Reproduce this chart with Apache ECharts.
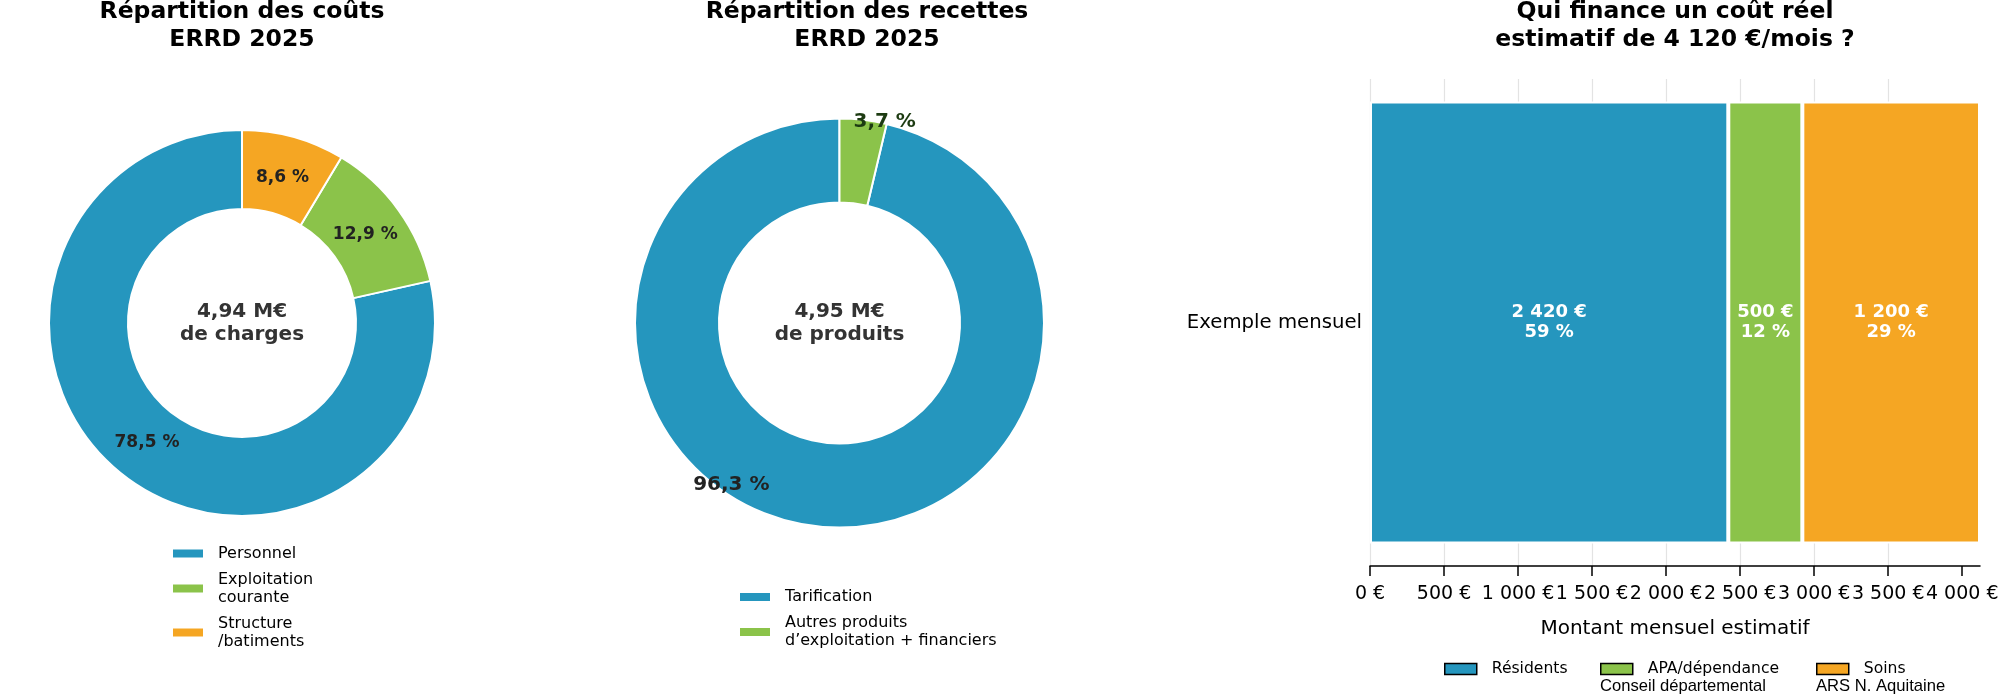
<!DOCTYPE html>
<html><head><meta charset="utf-8">
<script src="https://cdn.jsdelivr.net/npm/echarts@6/dist/echarts.min.js"></script>
<style>html,body{margin:0;padding:0;background:#fff}#c{width:2000px;height:694px}</style>
</head><body><div id="c"></div>
<script>
// ---- data ----
const costCategories = ['Personnel', 'Exploitation\ncourante', 'Structure\n/batiments'];
const costShares = [78.5, 12.9, 8.6];
const costTotalLabel = '4,94 M€\nde charges';

const revenueCategories = ['Tarification', 'Autres produits\nd’exploitation + financiers'];
const revenueShares = [96.3, 3.7];
const revenueTotalLabel = '4,95 M€\nde produits';

const fundingCategory = ['Exemple mensuel'];
const fundingSources = ['Résidents', 'APA/dépendance', 'Soins'];
const fundingSubLabels = ['', 'Conseil départemental', 'ARS N. Aquitaine'];
const fundingValues = [2420, 500, 1200];
const fundingTotal = 4120;
const xTickValues = [0, 500, 1000, 1500, 2000, 2500, 3000, 3500, 4000];

const titles = ['Répartition des coûts\nERRD 2025', 'Répartition des recettes\nERRD 2025', 'Qui finance un coût réel\nestimatif de 4 120 €/mois ?'];

// ---- style ----
const FONT = "'DejaVu Sans', sans-serif";
const COLORS = ['#2596be', '#8bc34a', '#f5a623'];
const eur = v => String(v).replace(/\B(?=(\d{3})+(?!\d))/g, ' ') + ' €';
const pct = p => p.value.toFixed(1).replace('.', ',') + ' %';

// mid angles (deg, counter-clockwise from 3 o'clock) of the cost wedges, used to pull labels slightly inward
const costTotal = costShares.reduce((a, b) => a + b, 0);
const costMidAngles = [];
costShares.reduce((acc, v) => { costMidAngles.push(90 + (acc + v / 2) / costTotal * 360); return acc + v; }, 0);

const chart = echarts.init(document.getElementById('c'), null, {renderer: 'canvas'});

const titleX = [242, 867, 1675];
const graphic = titles.map((t, i) => ({
  type: 'text', x: titleX[i], y: 26, silent: true,
  style: {text: t, font: "bold 23.5px 'DejaVu Sans'", fill: '#000', align: 'center', verticalAlign: 'middle', textAlign: 'center', textVerticalAlign: 'middle', lineHeight: 28}
}));
graphic.push({type: 'text', x: 242, y: 323, silent: true,
  style: {text: costTotalLabel, font: "bold 20px 'DejaVu Sans'", fill: '#333', align: 'center', verticalAlign: 'middle', textAlign: 'center', textVerticalAlign: 'middle', lineHeight: 23}});
graphic.push({type: 'text', x: 839.5, y: 323, silent: true,
  style: {text: revenueTotalLabel, font: "bold 20px 'DejaVu Sans'", fill: '#333', align: 'center', verticalAlign: 'middle', textAlign: 'center', textVerticalAlign: 'middle', lineHeight: 23}});
const subX = [0, 1600, 1816];
fundingSubLabels.forEach((s, i) => {
  if (!s) return;
  graphic.push({type: 'text', x: subX[i], y: 686.5, silent: true,
    style: {text: s, font: "16.6px 'Liberation Sans'", fill: '#000', align: 'left', verticalAlign: 'middle', textAlign: 'left', textVerticalAlign: 'middle'}});
});

const pieLegendBase = {
  orient: 'vertical', padding: 0, itemWidth: 30, itemHeight: 8, itemGap: 8, icon: 'rect', selectedMode: false,
  itemStyle: {borderWidth: 0},
  textStyle: {fontFamily: FONT, fontSize: 16, lineHeight: 18, color: '#000', padding: [0, 0, 0, 10]}
};
const barLegendLeft = [1444, 1600, 1816];

const option = {
  animation: false,
  textStyle: {fontFamily: FONT},
  graphic: graphic,
  legend: [
    Object.assign({}, pieLegendBase, {data: costCategories, left: 173, top: 544.5}),
    Object.assign({}, pieLegendBase, {data: revenueCategories, left: 740, top: 588}),
    ...fundingSources.map((n, i) => ({
      data: [n], left: barLegendLeft[i], top: 660.5, padding: 0, itemWidth: 32, itemHeight: 11, icon: 'rect', selectedMode: false,
      itemStyle: {borderColor: '#000', borderWidth: 1.5},
      textStyle: {fontFamily: FONT, fontSize: 15.6, lineHeight: 17, color: '#000', padding: [0, 0, 0, 10]}
    }))
  ],
  grid: {left: 1370, right: 20, top: 79, bottom: 128, containLabel: false, outerBoundsMode: 'none'},
  xAxis: {
    type: 'value', min: 0, max: fundingTotal, interval: 500,
    axisLine: {show: true, lineStyle: {color: '#000', width: 1.5}},
    axisTick: {show: true, length: 10, lineStyle: {color: '#000', width: 1.5}, customValues: xTickValues},
    axisLabel: {customValues: xTickValues, formatter: eur, fontSize: 19, color: '#000', margin: 19, fontFamily: FONT,
      showMaxLabel: true, showMinLabel: true, hideOverlap: false},
    splitLine: {show: true, showMaxLine: false, lineStyle: {color: '#e3e3e3', width: 1.2}},
    name: 'Montant mensuel estimatif', nameLocation: 'middle', nameGap: 53,
    nameTextStyle: {fontSize: 20, color: '#000', fontFamily: FONT}
  },
  yAxis: {
    type: 'category', data: fundingCategory,
    axisLine: {show: false}, axisTick: {show: false}, splitLine: {show: false},
    axisLabel: {fontSize: 19.7, color: '#000', margin: 8, fontFamily: FONT, padding: [8, 0, 0, 0]}
  },
  series: [
    {
      type: 'pie', center: [242, 323], radius: [114, 193], startAngle: 90, clockwise: false,
      avoidLabelOverlap: false, silent: true, emphasis: {disabled: true},
      data: costCategories.map((n, i) => ({name: n, value: costShares[i], itemStyle: {color: COLORS[i]}})),
      itemStyle: {borderColor: '#fff', borderWidth: 2},
      label: {show: true, position: 'inside', formatter: pct, fontSize: 17, fontWeight: 'bold', color: '#222', fontFamily: FONT},
      labelLayout: p => {
        const a = costMidAngles[p.dataIndex] * Math.PI / 180;
        return {dx: -4.5 * Math.cos(a), dy: 4.5 * Math.sin(a) + 1};
      },
      labelLine: {show: false}
    },
    {
      type: 'pie', center: [839.5, 323], radius: [120.5, 204.5], startAngle: 90, clockwise: false,
      avoidLabelOverlap: false, silent: true, emphasis: {disabled: true},
      data: revenueCategories.map((n, i) => ({name: n, value: revenueShares[i], itemStyle: {color: COLORS[i]},
        label: {color: i === 0 ? '#222' : '#1d3b12'}})),
      itemStyle: {borderColor: '#fff', borderWidth: 2},
      label: {show: true, position: 'inside', formatter: pct, fontSize: 20, fontWeight: 'bold', color: '#222', fontFamily: FONT},
      labelLayout: p => (p.dataIndex === 0 ? {dx: -89, dy: -3} : {dx: 26, dy: -37}),
      labelLine: {show: false}
    },
    ...fundingSources.map((name, i) => ({
      type: 'bar', name: name, stack: 'total', data: [fundingValues[i]], barWidth: 442,
      silent: true, emphasis: {disabled: true},
      itemStyle: {color: COLORS[i], borderColor: '#fff', borderWidth: 2},
      label: {show: true, position: 'inside', color: '#fff', fontWeight: 'bold', fontSize: 18, lineHeight: 20, fontFamily: FONT,
        formatter: p => eur(p.value) + '\n' + Math.round(p.value / fundingTotal * 100) + ' %'}
    }))
  ]
};
chart.setOption(option);
</script>
</body></html>
